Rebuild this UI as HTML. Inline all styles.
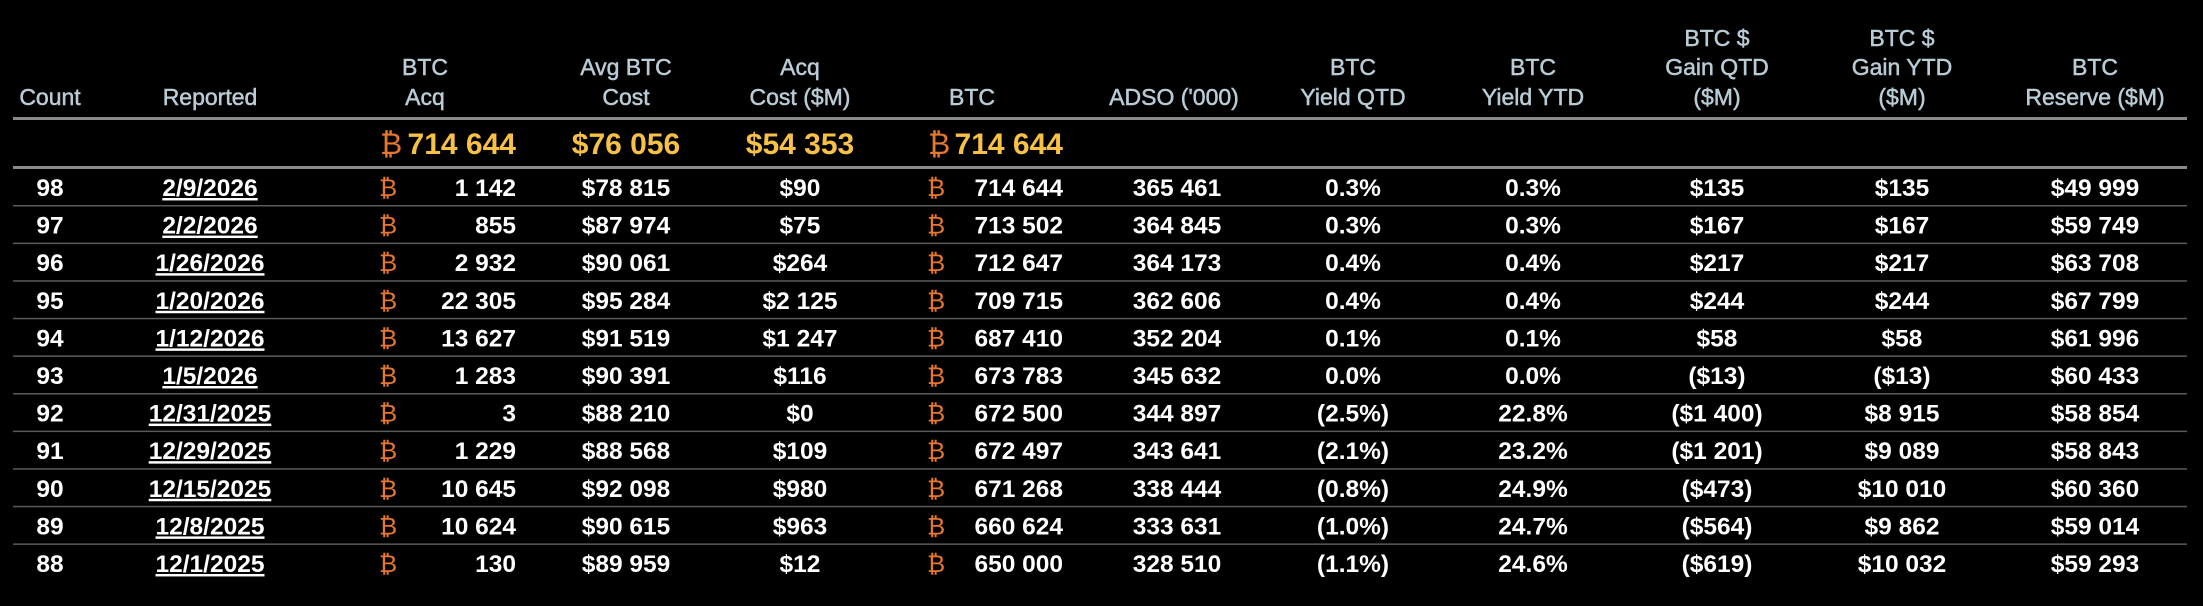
<!DOCTYPE html>
<html><head><meta charset="utf-8"><style>
html,body{margin:0;padding:0;background:#000;}
svg{display:block;}
text{font-family:"Liberation Sans",sans-serif;}
.h{fill:#b9ccd6;font-size:23px;text-anchor:middle;stroke:#b9ccd6;stroke-width:0.5px;}
.d{fill:#fff;font-size:24.5px;font-weight:bold;}
.c{text-anchor:middle;}
.r{text-anchor:end;}
.b{fill:#e8772e;font-size:24.5px;}
.t{fill:#f6c144;font-size:30px;font-weight:bold;}
.u{text-decoration:underline;}
</style></head><body>
<svg width="2203" height="606" viewBox="0 0 2203 606">
<rect width="2203" height="606" fill="#000"/>
<g class="h">
<text x="50" y="105">Count</text>
<text x="210" y="105">Reported</text>
<text x="425" y="75">BTC</text><text x="425" y="105">Acq</text>
<text x="626" y="75">Avg BTC</text><text x="626" y="105">Cost</text>
<text x="800" y="75">Acq</text><text x="800" y="105">Cost ($M)</text>
<text x="972" y="105">BTC</text>
<text x="1174" y="105">ADSO ('000)</text>
<text x="1353" y="75">BTC</text><text x="1353" y="105">Yield QTD</text>
<text x="1533" y="75">BTC</text><text x="1533" y="105">Yield YTD</text>
<text x="1717" y="46">BTC $</text><text x="1717" y="75">Gain QTD</text><text x="1717" y="105">($M)</text>
<text x="1902" y="46">BTC $</text><text x="1902" y="75">Gain YTD</text><text x="1902" y="105">($M)</text>
<text x="2095" y="75">BTC</text><text x="2095" y="105">Reserve ($M)</text>
</g>
<rect x="13" y="117" width="2174" height="3" fill="#8a8a8a"/>
<text x="380" y="154" style="fill:#e8772e;font-size:30px">₿</text>
<text x="516" y="154" class="t r">714 644</text>
<text x="626" y="154" class="t c">$76 056</text>
<text x="800" y="154" class="t c">$54 353</text>
<text x="928" y="154" style="fill:#e8772e;font-size:30px">₿</text>
<text x="1063" y="154" class="t r">714 644</text>
<rect x="13" y="166" width="2174" height="3" fill="#8a8a8a"/>
<g id="rows"></g>
</svg>
<script>
var data=[
["98","2/9/2026","1 142","$78 815","$90","714 644","365 461","0.3%","0.3%","$135","$135","$49 999"],
["97","2/2/2026","855","$87 974","$75","713 502","364 845","0.3%","0.3%","$167","$167","$59 749"],
["96","1/26/2026","2 932","$90 061","$264","712 647","364 173","0.4%","0.4%","$217","$217","$63 708"],
["95","1/20/2026","22 305","$95 284","$2 125","709 715","362 606","0.4%","0.4%","$244","$244","$67 799"],
["94","1/12/2026","13 627","$91 519","$1 247","687 410","352 204","0.1%","0.1%","$58","$58","$61 996"],
["93","1/5/2026","1 283","$90 391","$116","673 783","345 632","0.0%","0.0%","($13)","($13)","$60 433"],
["92","12/31/2025","3","$88 210","$0","672 500","344 897","(2.5%)","22.8%","($1 400)","$8 915","$58 854"],
["91","12/29/2025","1 229","$88 568","$109","672 497","343 641","(2.1%)","23.2%","($1 201)","$9 089","$58 843"],
["90","12/15/2025","10 645","$92 098","$980","671 268","338 444","(0.8%)","24.9%","($473)","$10 010","$60 360"],
["89","12/8/2025","10 624","$90 615","$963","660 624","333 631","(1.0%)","24.7%","($564)","$9 862","$59 014"],
["88","12/1/2025","130","$89 959","$12","650 000","328 510","(1.1%)","24.6%","($619)","$10 032","$59 293"]];
var s="";
for(var i=0;i<data.length;i++){
 var r=data[i],cy=187+i*37.6,y=cy+9;
 s+='<text x="50" y="'+y+'" class="d c">'+r[0]+'</text>';
 s+='<text x="210" y="'+y+'" class="d c u">'+r[1]+'</text>';
 s+='<text x="379" y="'+y+'" class="b">₿</text>';
 s+='<text x="516" y="'+y+'" class="d r">'+r[2]+'</text>';
 s+='<text x="626" y="'+y+'" class="d c">'+r[3]+'</text>';
 s+='<text x="800" y="'+y+'" class="d c">'+r[4]+'</text>';
 s+='<text x="927" y="'+y+'" class="b">₿</text>';
 s+='<text x="1063" y="'+y+'" class="d r">'+r[5]+'</text>';
 var xs=[1177,1353,1533,1717,1902,2095];
 for(var j=0;j<6;j++) s+='<text x="'+xs[j]+'" y="'+y+'" class="d c">'+r[6+j]+'</text>';
 if(i<data.length-1) s+='<rect x="13" y="'+(cy+18)+'" width="2174" height="1.5" fill="#5a5a5a"/>';
}
document.getElementById("rows").innerHTML=s;
</script>
</body></html>
